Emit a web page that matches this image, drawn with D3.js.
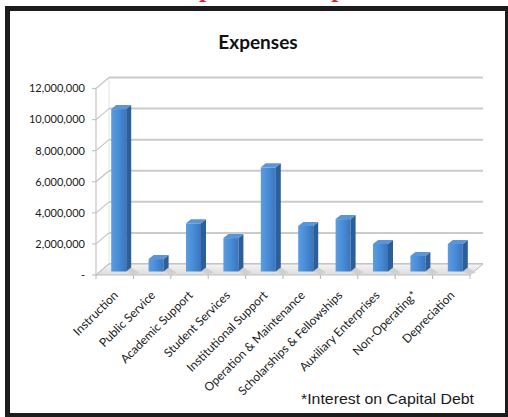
<!DOCTYPE html>
<html>
<head>
<meta charset="utf-8">
<script src="https://cdn.jsdelivr.net/npm/d3@7"></script>
<style>
  body { margin: 0; background: #fff; }
</style>
</head>
<body>
<div class="chart"></div>
<script>
// data
categories = ["Instruction", "Public Service", "Academic Support", "Student Services",
  "Institutional Support", "Operation & Maintenance", "Scholarships & Fellowships",
  "Auxiliary Enterprises", "Non-Operating*", "Depreciation"];
expenses = [10450000, 800000, 3100000, 2150000, 6700000, 2930000, 3370000, 1770000, 1000000, 1770000];
yTicks = [0, 2000000, 4000000, 6000000, 8000000, 10000000, 12000000];
chartTitle = "Expenses";
footnote = "*Interest on Capital Debt";

width = 508;
height = 417;
depth = {dx: 13, dy: -11};      // back wall offset
barDepth = {dx: 5, dy: -4};
barWidth = 15;

svg = d3.select('.chart').append('svg')
  .attr("width", width)
  .attr("height", height);

defs = svg.append("defs");
front = defs.append("linearGradient").attr("id", "barFront")
  .attr("x1", 0).attr("x2", 1).attr("y1", 0).attr("y2", 0);
front.append("stop").attr("offset", "0%").attr("stop-color", "#5b9de2");
front.append("stop").attr("offset", "45%").attr("stop-color", "#4a8dd8");
front.append("stop").attr("offset", "100%").attr("stop-color", "#3a75bd");
floorGrad = defs.append("linearGradient").attr("id", "floorGrad")
  .attr("x1", 0).attr("x2", 0).attr("y1", 0).attr("y2", 1);
floorGrad.append("stop").attr("offset", "0%").attr("stop-color", "#f4f4f4");
floorGrad.append("stop").attr("offset", "100%").attr("stop-color", "#dcdcdc");

// partly hidden heading above the frame (only descenders show)
head = svg.append("text")
  .attr("y", -3)
  .style("font", "bold 26px 'Liberation Serif'")
  .attr("fill", "#d42a2a")
  .text("Expenses Comparison");
p1 = head.node().getStartPositionOfChar(2).x;
head.attr("x", 199 - p1);

scaleX = d3.scaleBand()
  .domain(categories)
  .range([96, 470]);

scaleY = d3.scaleLinear()
  .domain([0, 12000000])
  .range([275, 88.5]);

x0 = scaleX.range()[0];
x1 = scaleX.range()[1];
y0 = scaleY(0);

// back wall gridlines
svg.append("g").selectAll("line")
  .data(yTicks)
  .join("line")
  .attr("x1", x0 + depth.dx).attr("x2", x1 + depth.dx)
  .attr("y1", d => scaleY(d) + depth.dy).attr("y2", d => scaleY(d) + depth.dy)
  .attr("stroke", "#cbcbcb")
  .attr("stroke-width", 2);

svg.append("line")
  .attr("x1", x0 + depth.dx).attr("x2", x0 + depth.dx)
  .attr("y1", scaleY(12000000) + depth.dy).attr("y2", y0 + depth.dy)
  .attr("stroke", "#e2e2e2");

// side wall
side = svg.append("g").attr("stroke", "#c4c4c4").attr("stroke-width", 1.2);
side.selectAll(".diag")
  .data(yTicks)
  .join("line")
  .attr("class", "diag")
  .attr("x1", x0).attr("x2", x0 + depth.dx)
  .attr("y1", d => scaleY(d)).attr("y2", d => scaleY(d) + depth.dy);
side.append("line")
  .attr("x1", x0).attr("x2", x0)
  .attr("y1", scaleY(12000000)).attr("y2", y0);
side.selectAll(".tick")
  .data(yTicks)
  .join("line")
  .attr("class", "tick")
  .attr("x1", x0 - 4).attr("x2", x0)
  .attr("y1", d => scaleY(d)).attr("y2", d => scaleY(d));

// floor
svg.append("path")
  .attr("d", `M${x0},${y0}L${x1},${y0}L${x1 + depth.dx},${y0 + depth.dy}L${x0 + depth.dx},${y0 + depth.dy}Z`)
  .attr("fill", "url(#floorGrad)")
  .attr("stroke", "#bdbdbd");

// category ticks
svg.append("g").selectAll("line")
  .data(categories.concat([null]))
  .join("line")
  .attr("x1", (d, i) => x0 + i * scaleX.bandwidth())
  .attr("x2", (d, i) => x0 + i * scaleX.bandwidth())
  .attr("y1", y0).attr("y2", y0 + 4)
  .attr("stroke", "#b5b5b5");

// bars: front plane sits a bit behind the floor edge
offX = 4, offY = -3.5;
bars = svg.append("g").selectAll("g")
  .data(expenses)
  .join("g");

left = (d, i) => scaleX(categories[i]) + scaleX.bandwidth() / 2 + offX - barWidth / 2;
top_ = d => scaleY(d) + offY;

// shadow on the floor
bars.append("path")
  .attr("d", (d, i) => {
    let l = left(d, i), b = y0 + offY;
    return `M${l + barWidth},${b}L${l + barWidth + barDepth.dx},${b + barDepth.dy}L${l + barWidth + 13},${b + 1}L${l + barWidth + 7},${b + 3}Z`;
  })
  .attr("fill", "#cfcfcf");

bars.append("rect")
  .attr("x", left)
  .attr("y", top_)
  .attr("width", barWidth)
  .attr("height", d => y0 + offY - top_(d))
  .attr("fill", "url(#barFront)");

bars.append("path")
  .attr("d", (d, i) => {
    let r = left(d, i) + barWidth, t = top_(d), b = y0 + offY;
    return `M${r},${t}L${r + barDepth.dx},${t + barDepth.dy}L${r + barDepth.dx},${b + barDepth.dy}L${r},${b}Z`;
  })
  .attr("fill", "#2c5f9a");

bars.append("path")
  .attr("d", (d, i) => {
    let l = left(d, i), t = top_(d);
    return `M${l},${t}L${l + barDepth.dx},${t + barDepth.dy}L${l + barWidth + barDepth.dx},${t + barDepth.dy}L${l + barWidth},${t}Z`;
  })
  .attr("fill", "#5a95d6");

// y labels
svg.append("g").selectAll("text")
  .data(yTicks)
  .join("text")
  .attr("x", 85)
  .attr("y", d => scaleY(d))
  .attr("dy", "0.35em")
  .attr("text-anchor", "end")
  .style("font", "11px Lato")
  .attr("fill", "#1a1a1a")
  .text(d => d === 0 ? "-" : d3.format(",")(d));

// x labels
svg.append("g").selectAll("text")
  .data(categories)
  .join("text")
  .attr("transform", d => `translate(${scaleX(d) + scaleX.bandwidth() / 2 + 4},${y0 + 21}) rotate(-45)`)
  .attr("text-anchor", "end")
  .style("font", "12px Lato")
  .attr("fill", "#1a1a1a")
  .text(d => d);

// title
svg.append("text")
  .attr("x", 258)
  .attr("y", 49)
  .attr("text-anchor", "middle")
  .style("font", "bold 19px Lato")
  .attr("fill", "#111")
  .text(chartTitle);

svg.append("text")
  .attr("x", 474)
  .attr("y", 404)
  .attr("text-anchor", "end")
  .attr("textLength", 173)
  .attr("lengthAdjust", "spacingAndGlyphs")
  .style("font", "15px 'Liberation Sans'")
  .attr("fill", "#1a1a1a")
  .text(footnote);

// frame
svg.append("rect")
  .attr("x", 7.5).attr("y", 8.5)
  .attr("width", 500).attr("height", 407)
  .attr("fill", "none")
  .attr("stroke", "#1c1c1c")
  .attr("stroke-width", 5);
</script>
</body>
</html>
